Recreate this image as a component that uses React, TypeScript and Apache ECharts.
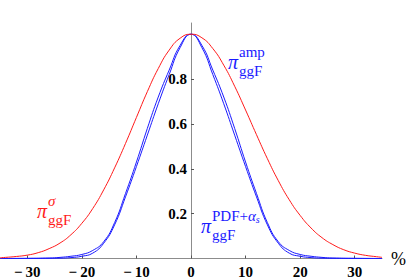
import React, { useEffect, useRef } from "react";
import * as echarts from "echarts";

const redX = [-35, -34, -32, -30, -28, -26, -24, -22, -20, -18, -16, -14, -12, -10, -8, -6, -4, -2, 0, 2, 4, 6, 8, 10, 12, 14, 16, 18, 20, 22, 24, 26, 28, 30, 32, 34, 35];
const redY = [0.003, 0.005, 0.009, 0.015, 0.026, 0.044, 0.069, 0.106, 0.157, 0.223, 0.306, 0.404, 0.513, 0.629, 0.744, 0.847, 0.929, 0.982, 1.0, 0.984, 0.936, 0.862, 0.768, 0.662, 0.552, 0.445, 0.347, 0.262, 0.192, 0.136, 0.093, 0.062, 0.039, 0.024, 0.014, 0.008, 0.005];

const blueX = [-35, -30, -26, -24, -22, -20, -18, -16, -14, -12, -10, -8, -6, -4, -2, 0, 2, 4, 6, 8, 10, 12, 14, 16, 18, 20, 22, 24, 26, 30, 35];
const blueOuterY = [0, 0.001, 0.002, 0.005, 0.01, 0.018, 0.036, 0.075, 0.16, 0.29, 0.43, 0.58, 0.72, 0.84, 0.95, 1.0, 0.95, 0.84, 0.72, 0.58, 0.43, 0.29, 0.16, 0.075, 0.036, 0.018, 0.01, 0.005, 0.002, 0.001, 0];
const blueInnerY = [0, 0, 0.001, 0.0015, 0.004, 0.01, 0.024, 0.068, 0.15, 0.275, 0.41, 0.55, 0.69, 0.82, 0.94, 1.0, 0.94, 0.82, 0.69, 0.55, 0.41, 0.275, 0.15, 0.068, 0.024, 0.01, 0.004, 0.0015, 0.001, 0, 0];

const xTicks = [-30, -20, -10, 0, 10, 20, 30];
const yTicks = [0.2, 0.4, 0.6, 0.8];

const RED = "#ff1a1a";
const BLUE = "#1a1aff";
const SERIF = "'Liberation Serif', 'DejaVu Serif', serif";

function pairs(xs: number[], ys: number[]) {
  return xs.map((x, i) => [x, ys[i]]);
}

function label(x: number, y: number, color: string, sup: string, sub: string, supRich?: boolean) {
  const els: any[] = [
    {
      type: "text",
      left: x,
      top: y,
      style: { text: "π", font: `italic 20px ${SERIF}`, fill: color },
    },
    {
      type: "text",
      left: x + 11,
      top: y + 11,
      style: { text: sub, font: `15px ${SERIF}`, fill: color },
    },
  ];
  if (supRich) {
    els.push({
      type: "text",
      left: x + 11,
      top: y - 8,
      style: {
        text: "{a|PDF+}{b|α}{c|s}",
        fill: color,
        rich: {
          a: { font: `15px ${SERIF}`, fill: color },
          b: { font: `italic 15px ${SERIF}`, fill: color },
          c: { font: `italic 10px ${SERIF}`, fill: color, padding: [8, 0, 0, 0] },
        },
      },
    });
  } else {
    els.push({
      type: "text",
      left: x + 11,
      top: y - 8,
      style: { text: sup, font: (sup === "σ" ? "italic " : "") + `15px ${SERIF}`, fill: color },
    });
  }
  return els;
}

export default function App() {
  const ref = useRef<HTMLDivElement>(null);
  useEffect(() => {
    if (!ref.current) return;
    const chart = echarts.init(ref.current, undefined, { renderer: "svg" });
    chart.setOption({
      animation: false,
      backgroundColor: "#ffffff",
      grid: { left: 0, right: 27, top: 23, bottom: 20.5, containLabel: false, outerBoundsMode: "none" },
      xAxis: {
        type: "value",
        min: -35,
        max: 35,
        name: "%",
        nameLocation: "end",
        nameGap: 9,
        nameTextStyle: { fontFamily: SERIF, fontSize: 18, color: "#000", verticalAlign: "middle", padding: [4, 0, 0, 0] },
        axisLine: { show: true, onZero: false, lineStyle: { color: "#8c8c8c", width: 1 } },
        axisTick: { show: true, inside: true, length: 3, customValues: xTicks, lineStyle: { color: "#555" } },
        axisLabel: {
          customValues: xTicks,
          margin: 6,
          fontFamily: SERIF,
          fontWeight: "bold",
          fontSize: 15,
          color: "#000",
          formatter: (v: number) => (v < 0 ? "\u2212" + "\u2009" + Math.abs(v) : String(v)),
        },
        splitLine: { show: false },
      },
      yAxis: {
        type: "value",
        min: 0,
        max: 1.05,
        position: "left",
        offset: -191,
        axisLine: { show: true, onZero: false, lineStyle: { color: "#8c8c8c", width: 1 } },
        axisTick: { show: true, inside: true, length: 3, customValues: yTicks, lineStyle: { color: "#555" } },
        axisLabel: {
          customValues: yTicks,
          margin: 4,
          fontFamily: SERIF,
          fontWeight: "bold",
          fontSize: 15,
          color: "#000",
          formatter: (v: number) => v.toFixed(1),
        },
        splitLine: { show: false },
      },
      series: [
        {
          type: "line",
          data: pairs(redX, redY),
          smooth: true,
          showSymbol: false,
          lineStyle: { color: RED, width: 1 },
          z: 3,
        },
        {
          type: "line",
          data: pairs(blueX, blueOuterY),
          smooth: true,
          showSymbol: false,
          lineStyle: { color: BLUE, width: 1 },
          z: 2,
        },
        {
          type: "line",
          data: pairs(blueX, blueInnerY),
          smooth: true,
          showSymbol: false,
          lineStyle: { color: BLUE, width: 1 },
          z: 2,
        },
      ],
      graphic: [
        ...label(37, 201, RED, "σ", "ggF"),
        ...label(228, 52, BLUE, "amp", "ggF"),
        ...label(201, 216, BLUE, "", "ggF", true),
      ],
    });
    return () => chart.dispose();
  }, []);
  return <div ref={ref} style={{ position: "fixed", left: 0, top: 0, width: 409, height: 279 }} />;
}
